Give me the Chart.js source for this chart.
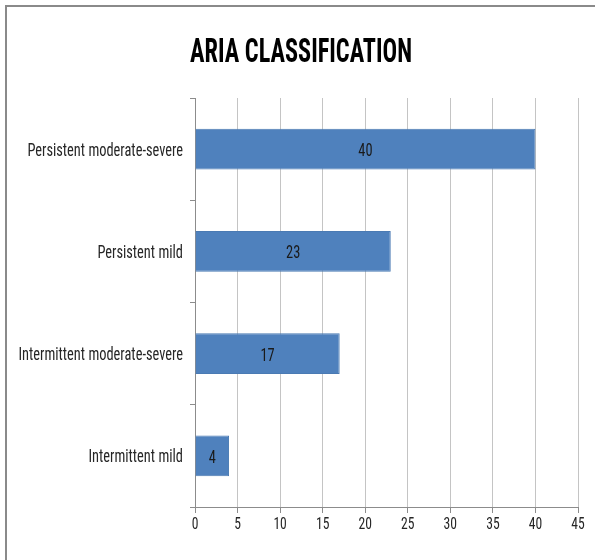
<!DOCTYPE html>
<html>
<head>
<meta charset="utf-8">
<script src="https://cdn.jsdelivr.net/npm/chart.js@4/dist/chart.umd.min.js"></script>
<style>
  html, body { margin: 0; padding: 0; overflow: hidden; background: #fff; }
  #wrap { position: relative; width: 595px; height: 560px; }
  #frame { position: absolute; left: 5px; top: 5px; width: 640px; height: 640px;
           border-left: 2px solid #8a8a8a; border-top: 2px solid #8a8a8a; box-sizing: border-box; }
  canvas { position: absolute; left: 0; top: 0; }
</style>
</head>
<body>
<div id="wrap">
  <div id="frame"></div>
  <canvas id="c" width="595" height="560"></canvas>
</div>
<script>
// ARIA classification of patients
const categories = [
  'Persistent moderate-severe',
  'Persistent mild',
  'Intermittent moderate-severe',
  'Intermittent mild'
];
const counts = [40, 23, 17, 4];
const xTicks = [0, 5, 10, 15, 20, 25, 30, 35, 40, 45];
const titleText = 'ARIA CLASSIFICATION';

const FONT = '"Roboto Condensed", "Open Sans Condensed", "DejaVu Sans Condensed", sans-serif';
const GRID = '#c4c4c4';
const AXIS = '#8c8c8c';
const SQUEEZE = 0.8;   // horizontal squeeze for all lettering (narrow face look)

function drawNarrow(ctx, text, x, y, align, squeeze) {
  ctx.save();
  ctx.translate(x, y);
  ctx.scale(squeeze, 1);
  ctx.textAlign = align;
  ctx.fillText(text, 0, 0);
  ctx.restore();
}

// Title, category labels, value ticks and bar values, all in a narrow face
const lettering = {
  id: 'lettering',
  afterDraw(chart) {
    const ctx = chart.ctx;
    const xs = chart.scales.x, ys = chart.scales.y;
    ctx.save();
    ctx.textBaseline = 'alphabetic';

    // title
    ctx.font = 'bold 34px ' + FONT;
    ctx.fillStyle = '#000';
    const tw = ctx.measureText(titleText).width;
    drawNarrow(ctx, titleText, 301, 61.5, 'center', 222 / tw);

    // category labels
    ctx.font = '18px ' + FONT;
    ctx.fillStyle = '#262626';
    ys.ticks.forEach((t, i) => {
      drawNarrow(ctx, chart.data.labels[i], ys.right - 12, ys.getPixelForTick(i) + 6.5, 'right', SQUEEZE);
    });

    // value ticks
    ctx.font = '17px ' + FONT;
    xs.ticks.forEach((t, i) => {
      drawNarrow(ctx, String(t.value), xs.getPixelForTick(i), xs.top + 22, 'center', SQUEEZE);
    });

    // bar values
    ctx.font = '18px ' + FONT;
    ctx.fillStyle = '#1a1a1a';
    chart.getDatasetMeta(0).data.forEach((bar, i) => {
      const v = chart.data.datasets[0].data[i];
      drawNarrow(ctx, String(v), (bar.base + bar.x) / 2, bar.y + 7, 'center', SQUEEZE);
    });
    ctx.restore();
  }
};

new Chart(document.getElementById('c'), {
  type: 'bar',
  data: {
    labels: categories,
    datasets: [{
      data: counts,
      backgroundColor: '#4f81bd',
      borderColor: '#4a7ab3',
      borderWidth: 1,
      categoryPercentage: 0.4,
      barPercentage: 1
    }]
  },
  options: {
    indexAxis: 'y',
    responsive: false,
    animation: false,
    layout: { padding: { left: 8, right: 17, top: 98, bottom: 0 } },
    plugins: {
      legend: { display: false },
      tooltip: { enabled: false },
      title: { display: false }
    },
    scales: {
      x: {
        min: 0, max: 45,
        afterBuildTicks(scale) { scale.ticks = xTicks.map(v => ({ value: v })); },
        afterFit(scale) { scale.height = 53; },
        ticks: { display: false },
        grid: { color: GRID, tickColor: AXIS, tickLength: 6, drawTicks: true },
        border: { color: AXIS, width: 1 }
      },
      y: {
        afterFit(scale) { scale.width = 187; },
        ticks: { display: false },
        grid: { offset: true, drawOnChartArea: false, drawTicks: true, tickLength: 5, tickColor: AXIS },
        border: { color: AXIS, width: 1 }
      }
    }
  },
  plugins: [lettering]
});
</script>
</body>
</html>
